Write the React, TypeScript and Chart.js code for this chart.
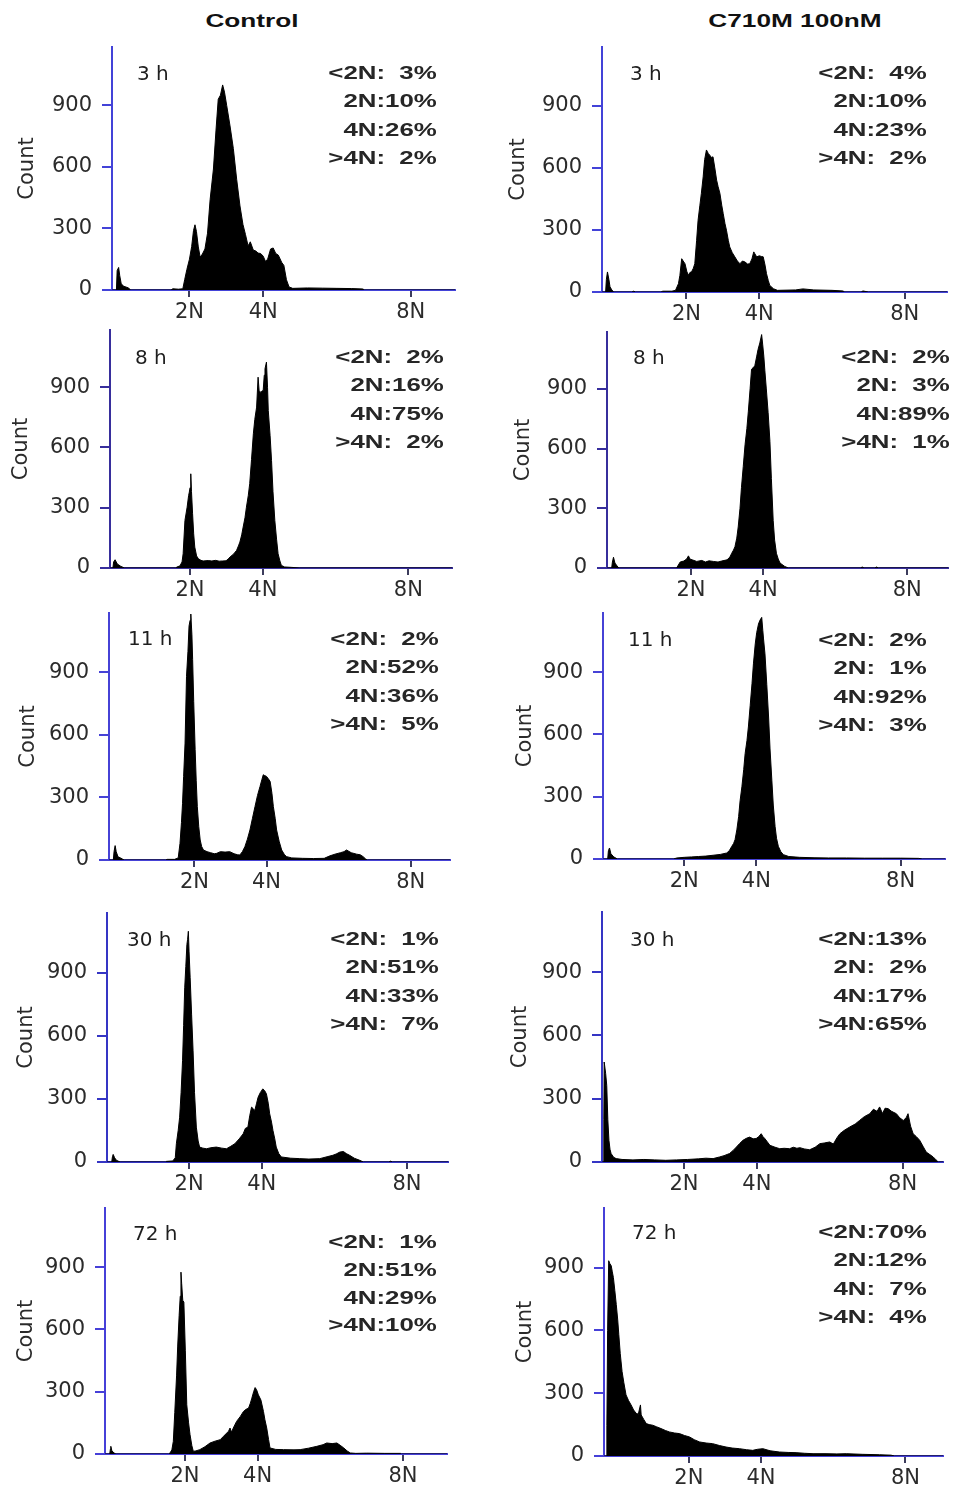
import React, { useEffect, useRef } from "react";
import { Chart, registerables } from "chart.js";

Chart.register(...registerables);

type Pt = [number, number];

// ---- DNA content histograms: [DNA content in N, count] ----
const control3h: Pt[] = [
  [-0.1, 0], [0.02, 0], [0.04, 95], [0.08, 110], [0.11, 70], [0.15, 30], [0.22, 18], [0.35, 10], [0.4, 0],
  [1.5, 0], [1.55, 6], [1.7, 4], [1.82, 6], [1.87, 50], [1.93, 100], [2.0, 150], [2.06, 212], [2.11, 290],
  [2.15, 318], [2.19, 285], [2.24, 210], [2.29, 160], [2.35, 175], [2.42, 200], [2.49, 277], [2.56, 440],
  [2.65, 590], [2.72, 780], [2.78, 930], [2.84, 950], [2.9, 1000], [2.95, 965], [3.01, 900], [3.1, 800],
  [3.19, 690], [3.28, 540], [3.37, 410], [3.45, 320], [3.52, 270], [3.59, 215], [3.65, 235], [3.73, 195],
  [3.8, 190], [3.86, 180], [3.93, 178], [4.0, 165], [4.06, 140], [4.12, 150], [4.2, 200], [4.27, 205],
  [4.34, 178], [4.41, 170], [4.5, 135], [4.56, 120], [4.63, 50], [4.7, 15], [4.8, 8], [5.2, 10], [5.6, 9],
  [6.0, 8], [6.4, 7], [6.7, 5], [6.75, 0], [9.25, 0],
];
const control8h: Pt[] = [
  [-0.2, 0], [-0.12, 0], [-0.1, 30], [-0.06, 41], [0.0, 20], [0.1, 8], [0.2, 0],
  [1.6, 0], [1.65, 6], [1.72, 10], [1.78, 30], [1.81, 71], [1.86, 237], [1.92, 303], [1.96, 360], [1.98, 378],
  [2.0, 400], [2.02, 469], [2.04, 380], [2.07, 270], [2.1, 170], [2.13, 104], [2.18, 60], [2.23, 46], [2.3, 38],
  [2.36, 35], [2.5, 37], [2.6, 35], [2.7, 38], [2.8, 34], [2.9, 35], [2.99, 36], [3.05, 45], [3.1, 55],
  [3.2, 70], [3.28, 88], [3.33, 110], [3.37, 129], [3.42, 165], [3.46, 204], [3.51, 250], [3.55, 303],
  [3.6, 360], [3.64, 420], [3.69, 540], [3.74, 668], [3.78, 740], [3.83, 801], [3.87, 950], [3.9, 880],
  [3.92, 867], [3.97, 880], [4.01, 884], [4.04, 960], [4.06, 992], [4.1, 1025], [4.13, 900], [4.15, 784],
  [4.2, 660], [4.24, 535], [4.28, 380], [4.33, 237], [4.38, 140], [4.42, 71], [4.47, 35], [4.51, 13],
  [4.6, 5], [4.8, 3], [5.0, 0], [9.2, 0],
];
const control11h: Pt[] = [
  [-0.37, 0], [-0.25, 0], [-0.23, 40], [-0.2, 69], [-0.17, 40], [-0.12, 15], [-0.05, 10], [0.0, 5], [0.05, 0],
  [1.2, 0], [1.25, 3], [1.45, 3], [1.55, 10], [1.6, 80], [1.64, 180], [1.67, 272], [1.7, 400], [1.74, 561],
  [1.78, 881], [1.82, 1000], [1.85, 1122], [1.88, 1150], [1.9, 1180], [1.93, 1080], [1.95, 962], [1.98, 760],
  [2.02, 529], [2.05, 380], [2.08, 256], [2.12, 160], [2.16, 96], [2.2, 65], [2.25, 48], [2.35, 40],
  [2.45, 35], [2.55, 30], [2.62, 32], [2.72, 40], [2.85, 38], [2.98, 40], [3.1, 30], [3.2, 25], [3.26, 24],
  [3.33, 40], [3.4, 64], [3.47, 100], [3.54, 144], [3.61, 200], [3.68, 256], [3.75, 310], [3.82, 353],
  [3.87, 385], [3.91, 409], [3.95, 405], [4.0, 401], [4.05, 390], [4.1, 377], [4.15, 320], [4.19, 256],
  [4.24, 200], [4.28, 144], [4.35, 90], [4.42, 48], [4.5, 25], [4.56, 16], [4.7, 10], [5.0, 8], [5.3, 7],
  [5.6, 8], [5.76, 20], [5.9, 28], [6.05, 35], [6.15, 40], [6.22, 48], [6.35, 35], [6.5, 28], [6.6, 25],
  [6.68, 16], [6.75, 5], [6.8, 0], [9.09, 0],
];
const control30h: Pt[] = [
  [-0.26, 0], [-0.13, 0], [-0.11, 25], [-0.09, 36], [-0.05, 20], [0.0, 8], [0.1, 0],
  [1.35, 0], [1.38, 3], [1.55, 5], [1.62, 20], [1.65, 87], [1.7, 150], [1.74, 213], [1.78, 330], [1.82, 482],
  [1.85, 650], [1.88, 829], [1.91, 930], [1.94, 1035], [1.96, 1060], [1.98, 1098], [2.0, 1000], [2.03, 877],
  [2.07, 700], [2.11, 529], [2.15, 330], [2.2, 166], [2.25, 100], [2.29, 71], [2.38, 66], [2.48, 63],
  [2.6, 68], [2.75, 71], [2.9, 66], [3.03, 63], [3.15, 75], [3.26, 87], [3.38, 110], [3.49, 134], [3.55, 160],
  [3.62, 166], [3.67, 220], [3.72, 261], [3.76, 255], [3.81, 245], [3.86, 280], [3.9, 308], [3.96, 330],
  [4.03, 348], [4.08, 340], [4.13, 324], [4.18, 280], [4.22, 229], [4.27, 190], [4.31, 150], [4.36, 110],
  [4.4, 71], [4.47, 40], [4.54, 24], [4.8, 18], [5.05, 16], [5.3, 14], [5.6, 16], [5.8, 25], [5.96, 32],
  [6.05, 38], [6.15, 47], [6.25, 50], [6.33, 40], [6.42, 32], [6.55, 18], [6.7, 8], [6.8, 0], [7.5, 0],
  [7.55, 4], [7.6, 0], [9.13, 0],
];
const control72h: Pt[] = [
  [-0.2, 0], [-0.07, 0], [-0.05, 25], [-0.04, 37], [-0.01, 15], [0.05, 5], [0.1, 0],
  [1.55, 0], [1.59, 5], [1.64, 20], [1.68, 61], [1.72, 200], [1.77, 380], [1.8, 520], [1.84, 668], [1.87, 760],
  [1.89, 876], [1.91, 820], [1.94, 740], [1.97, 732], [2.01, 500], [2.05, 237], [2.1, 150], [2.14, 93],
  [2.19, 40], [2.23, 13], [2.3, 15], [2.41, 21], [2.55, 35], [2.69, 53], [2.83, 62], [2.97, 69], [3.06, 85],
  [3.15, 101], [3.2, 110], [3.24, 125], [3.28, 105], [3.33, 125], [3.42, 157], [3.52, 180], [3.61, 205],
  [3.68, 215], [3.75, 221], [3.8, 245], [3.84, 269], [3.89, 300], [3.93, 320], [3.97, 310], [4.02, 285],
  [4.09, 260], [4.16, 205], [4.2, 165], [4.25, 125], [4.3, 70], [4.34, 29], [4.5, 22], [4.71, 21], [5.0, 20],
  [5.17, 21], [5.4, 28], [5.63, 37], [5.8, 45], [5.9, 53], [6.05, 50], [6.18, 53], [6.27, 42], [6.37, 29],
  [6.46, 15], [6.55, 5], [6.7, 3], [7.0, 4], [7.5, 3], [7.93, 3], [7.95, 0], [9.21, 0],
];

const c710m3h: Pt[] = [
  [-0.32, 0], [-0.22, 0], [-0.2, 60], [-0.17, 97], [-0.13, 60], [-0.1, 25], [-0.05, 10], [0.0, 0],
  [0.5, 0], [0.55, 4], [0.6, 0], [1.3, 0], [1.35, 4], [1.6, 4], [1.7, 8], [1.78, 40], [1.82, 80], [1.87, 161],
  [1.91, 150], [1.96, 137], [2.01, 100], [2.05, 81], [2.1, 95], [2.14, 97], [2.19, 115], [2.23, 137],
  [2.28, 250], [2.32, 347], [2.37, 420], [2.41, 477], [2.46, 557], [2.5, 640], [2.55, 687], [2.6, 670],
  [2.64, 662], [2.69, 650], [2.73, 654], [2.78, 600], [2.83, 541], [2.87, 510], [2.92, 477], [2.97, 420],
  [3.01, 380], [3.06, 330], [3.1, 299], [3.15, 250], [3.19, 218], [3.26, 190], [3.33, 170], [3.4, 150],
  [3.47, 137], [3.54, 150], [3.61, 145], [3.68, 135], [3.74, 137], [3.8, 160], [3.85, 194], [3.88, 185],
  [3.93, 170], [4.0, 175], [4.06, 172], [4.11, 170], [4.16, 130], [4.2, 89], [4.25, 55], [4.29, 32],
  [4.39, 16], [4.5, 8], [5.0, 10], [5.2, 15], [5.5, 10], [6.0, 8], [6.3, 5], [6.35, 0], [6.8, 0], [6.85, 5],
  [7.0, 0], [9.16, 0],
];
const c710m8h: Pt[] = [
  [-0.33, 0], [-0.2, 0], [-0.18, 30], [-0.15, 54], [-0.11, 25], [-0.05, 10], [0.0, 0],
  [1.6, 0], [1.65, 15], [1.7, 30], [1.8, 35], [1.88, 45], [1.93, 61], [1.97, 45], [2.05, 40], [2.16, 33],
  [2.3, 38], [2.4, 30], [2.5, 36], [2.62, 33], [2.75, 30], [2.85, 35], [3.0, 41], [3.08, 55], [3.13, 74],
  [3.18, 90], [3.22, 107], [3.27, 150], [3.31, 206], [3.36, 300], [3.4, 404], [3.45, 510], [3.5, 619],
  [3.55, 700], [3.59, 784], [3.64, 900], [3.68, 998], [3.72, 1005], [3.77, 1015], [3.82, 1060], [3.86, 1097],
  [3.91, 1130], [3.96, 1172], [3.99, 1120], [4.02, 1064], [4.05, 990], [4.09, 899], [4.14, 780], [4.19, 635],
  [4.23, 450], [4.28, 239], [4.32, 140], [4.37, 74], [4.42, 45], [4.47, 25], [4.6, 8], [4.7, 0], [6.7, 0],
  [6.75, 5], [6.8, 0], [7.1, 0], [7.15, 5], [7.2, 0], [9.13, 0],
];
const c710m11h: Pt[] = [
  [-0.25, 0], [-0.12, 0], [-0.1, 40], [-0.07, 53], [-0.03, 25], [0.05, 10], [0.15, 0],
  [1.7, 0], [1.8, 5], [2.0, 8], [2.2, 10], [2.4, 12], [2.6, 14], [2.8, 18], [3.0, 22], [3.18, 29], [3.25, 40],
  [3.32, 61], [3.37, 75], [3.41, 93], [3.46, 140], [3.51, 205], [3.55, 280], [3.6, 348], [3.65, 430],
  [3.69, 508], [3.74, 570], [3.78, 636], [3.83, 740], [3.88, 844], [3.92, 940], [3.97, 1036], [4.01, 1090],
  [4.06, 1132], [4.1, 1150], [4.15, 1164], [4.18, 1100], [4.2, 1060], [4.24, 988], [4.29, 840], [4.34, 684],
  [4.38, 530], [4.43, 380], [4.47, 260], [4.52, 157], [4.56, 100], [4.61, 61], [4.68, 35], [4.75, 21],
  [4.9, 12], [5.2, 8], [5.6, 6], [6.0, 5], [6.5, 5], [7.0, 4], [7.5, 4], [8.0, 4], [8.5, 3], [8.6, 0], [9.23, 0],
];
const c710m30h: Pt[] = [
  [-0.25, 0], [-0.21, 0], [-0.2, 200], [-0.19, 474], [-0.15, 420], [-0.12, 363], [-0.09, 200], [-0.06, 103],
  [-0.03, 60], [0.0, 40], [0.07, 22], [0.14, 16], [0.3, 12], [0.6, 10], [0.9, 12], [1.2, 10], [1.5, 8],
  [1.8, 10], [2.1, 12], [2.4, 15], [2.6, 18], [2.8, 16], [2.98, 24], [3.1, 30], [3.25, 40], [3.35, 55],
  [3.44, 71], [3.53, 88], [3.62, 103], [3.71, 112], [3.8, 118], [3.9, 110], [3.98, 111], [4.05, 120],
  [4.12, 134], [4.17, 120], [4.22, 111], [4.29, 95], [4.36, 79], [4.5, 70], [4.63, 63], [4.75, 65], [4.9, 63],
  [5.0, 70], [5.1, 65], [5.18, 68], [5.3, 62], [5.45, 58], [5.6, 70], [5.73, 87], [5.85, 90], [6.0, 95],
  [6.1, 85], [6.2, 115], [6.28, 134], [6.4, 150], [6.55, 166], [6.7, 180], [6.82, 197], [6.95, 215],
  [7.1, 229], [7.2, 250], [7.3, 240], [7.37, 261], [7.45, 230], [7.52, 255], [7.6, 253], [7.7, 240],
  [7.83, 229], [7.92, 210], [8.02, 197], [8.1, 210], [8.15, 229], [8.22, 170], [8.29, 134], [8.38, 120],
  [8.47, 103], [8.56, 75], [8.65, 47], [8.75, 35], [8.84, 24], [8.92, 10], [8.98, 0], [9.11, 0],
];
const c710m72h: Pt[] = [
  [-0.35, 0], [-0.28, 0], [-0.27, 147], [-0.25, 600], [-0.22, 933], [-0.19, 920], [-0.15, 909], [-0.12, 880],
  [-0.09, 853], [-0.05, 790], [-0.01, 724], [0.03, 650], [0.06, 580], [0.1, 490], [0.15, 404], [0.2, 350],
  [0.26, 292], [0.33, 265], [0.4, 244], [0.47, 220], [0.54, 204], [0.6, 200], [0.66, 244], [0.68, 196],
  [0.75, 175], [0.82, 155], [0.9, 150], [1.0, 147], [1.1, 140], [1.23, 131], [1.35, 122], [1.46, 115],
  [1.6, 110], [1.74, 107], [1.88, 98], [2.02, 91], [2.15, 78], [2.3, 67], [2.48, 62], [2.66, 59], [2.85, 50],
  [3.03, 43], [3.2, 38], [3.4, 35], [3.6, 30], [3.77, 27], [3.9, 32], [4.05, 35], [4.25, 25], [4.51, 19],
  [4.75, 17], [4.97, 16], [5.2, 13], [5.44, 11], [5.8, 11], [6.1, 10], [6.36, 11], [6.8, 8], [7.28, 6],
  [7.6, 4], [7.7, 0], [9.04, 0],
];

const controlSeries = [control3h, control8h, control11h, control30h, control72h];
const c710mSeries = [c710m3h, c710m8h, c710m11h, c710m30h, c710m72h];

// ---- labels ----
const columnTitles = ["Control", "C710M 100nM"];
const timeLabels = ["3 h", "8 h", "11 h", "30 h", "72 h"];
const phaseLabels = ["<2N:", "2N:", "4N:", ">4N:"];
const controlPercents = [[3, 10, 26, 2], [2, 16, 75, 2], [2, 52, 36, 5], [1, 51, 33, 7], [1, 51, 29, 10]];
const c710mPercents = [[4, 10, 23, 2], [2, 3, 89, 1], [2, 1, 92, 3], [13, 2, 17, 65], [70, 12, 7, 4]];
const xTickValues = [2, 4, 8];
const xTickLabels = ["2N", "4N", "8N"];
const yTickValues = [0, 300, 600, 900];
const yAxisTitle = "Count";
const yMax = 1185;

// ---- layout (pixels) ----
const PAGE_W = 953;
const PAGE_H = 1491;
const PAD_TOP = 26;
const PAD_RIGHT = 6;
const X_AXIS_H = 40;

interface Lay {
  L: number; T: number; B: number; R: number; countX: number; xMin: number; xMax: number; axis: string;
  timeX: number; timeY: number; pctX: number; pctY: number; pctGap: number;
}
const rowAxisColors = ["#4343d8", "#372e9c", "#4642d6", "#3535c4", "#4640d8"];
const leftLayout: Lay[] = [
  { L: 112, T: 47, B: 290, R: 455, countX: 28, xMin: -0.1, xMax: 9.2, axis: rowAxisColors[0], timeX: 137, timeY: 73, pctX: 437, pctY: 73, pctGap: 28.5 },
  { L: 110, T: 330, B: 568, R: 452, countX: 22, xMin: -0.2, xMax: 9.2, axis: rowAxisColors[1], timeX: 135, timeY: 357, pctX: 444, pctY: 357, pctGap: 28.4 },
  { L: 109, T: 613, B: 860, R: 450, countX: 29, xMin: -0.37, xMax: 9.09, axis: rowAxisColors[2], timeX: 128, timeY: 638, pctX: 439, pctY: 639, pctGap: 28.4 },
  { L: 107, T: 913, B: 1162, R: 448, countX: 27, xMin: -0.26, xMax: 9.13, axis: rowAxisColors[3], timeX: 127, timeY: 939, pctX: 439, pctY: 939, pctGap: 28.4 },
  { L: 105, T: 1208, B: 1454, R: 447, countX: 27, xMin: -0.2, xMax: 9.21, axis: rowAxisColors[4], timeX: 133, timeY: 1233, pctX: 437, pctY: 1242, pctGap: 27.7 },
];
const rightLayout: Lay[] = [
  { L: 602, T: 47, B: 292, R: 947, countX: 519, xMin: -0.32, xMax: 9.16, axis: rowAxisColors[0], timeX: 630, timeY: 73, pctX: 927, pctY: 73, pctGap: 28.5 },
  { L: 607, T: 332, B: 568, R: 948, countX: 524, xMin: -0.33, xMax: 9.13, axis: rowAxisColors[1], timeX: 633, timeY: 357, pctX: 950, pctY: 357, pctGap: 28.4 },
  { L: 603, T: 613, B: 859, R: 945, countX: 526, xMin: -0.25, xMax: 9.23, axis: rowAxisColors[2], timeX: 628, timeY: 639, pctX: 927, pctY: 640, pctGap: 28.4 },
  { L: 602, T: 912, B: 1162, R: 943, countX: 521, xMin: -0.25, xMax: 9.11, axis: rowAxisColors[3], timeX: 630, timeY: 939, pctX: 927, pctY: 939, pctGap: 28.4 },
  { L: 604, T: 1208, B: 1456, R: 943, countX: 526, xMin: -0.35, xMax: 9.04, axis: rowAxisColors[4], timeX: 632, timeY: 1232, pctX: 927, pctY: 1232, pctGap: 28.6 },
];
const titleCenters = [252, 795];

const tickFont = { family: "'DejaVu Sans', sans-serif", size: 21 };
const tickColor = "#2b2b2b";

function Histogram({ points, lay }: { points: Pt[]; lay: Lay }) {
  const ref = useRef<HTMLCanvasElement | null>(null);
  const left = lay.countX - 28;
  const top = lay.T - PAD_TOP;
  const width = lay.R - left + PAD_RIGHT;
  const height = lay.B - lay.T + PAD_TOP + X_AXIS_H;
  const yAxisWidth = lay.L - left;

  useEffect(() => {
    if (!ref.current) return;
    const chart = new Chart(ref.current, {
      type: "line",
      data: {
        datasets: [
          {
            data: points.map(([x, y]) => ({ x, y })),
            borderColor: "#000",
            backgroundColor: "#000",
            borderWidth: 1,
            pointRadius: 0,
            tension: 0,
            fill: "origin",
          },
        ],
      },
      options: {
        animation: false,
        responsive: false,
        maintainAspectRatio: false,
        events: [],
        layout: { padding: { top: PAD_TOP, right: PAD_RIGHT, left: 0, bottom: 0 } },
        plugins: { legend: { display: false }, tooltip: { enabled: false }, title: { display: false } },
        scales: {
          x: {
            type: "linear",
            min: lay.xMin,
            max: lay.xMax,
            z: 1,
            afterBuildTicks: (s: any) => {
              s.ticks = xTickValues.map((v) => ({ value: v }));
            },
            afterFit: (s: any) => {
              s.height = X_AXIS_H;
            },
            ticks: {
              autoSkip: false,
              maxRotation: 0,
              padding: 3,
              font: tickFont,
              color: tickColor,
              callback: (v: any) => {
                const i = xTickValues.indexOf(Number(v));
                return i >= 0 ? xTickLabels[i] : "";
              },
            },
            grid: { display: true, drawOnChartArea: false, drawTicks: true, tickLength: 7, color: "#3c3c5c", lineWidth: 2 },
            border: { display: true, color: lay.axis, width: 2 },
          },
          y: {
            type: "linear",
            min: 0,
            max: yMax,
            z: 1,
            afterBuildTicks: (s: any) => {
              s.ticks = yTickValues.map((v) => ({ value: v }));
            },
            afterFit: (s: any) => {
              s.width = yAxisWidth;
            },
            ticks: { padding: 10, font: tickFont, color: tickColor },
            grid: { display: true, drawOnChartArea: false, drawTicks: true, tickLength: 10, color: lay.axis, lineWidth: 2 },
            border: { display: true, color: lay.axis, width: 2 },
            title: {
              display: true,
              text: yAxisTitle,
              font: tickFont,
              color: tickColor,
              padding: { top: 15, bottom: 0 },
            },
          },
        },
      },
    } as any);
    return () => chart.destroy();
  }, [points, lay]);

  return (
    <canvas
      ref={ref}
      width={width}
      height={height}
      style={{ position: "absolute", left, top, width, height }}
    />
  );
}

function Annotation({ lay, time, pcts }: { lay: Lay; time: string; pcts: number[] }) {
  return (
    <>
      <div
        style={{
          position: "absolute",
          left: lay.timeX,
          top: lay.timeY - 12,
          font: "20px 'DejaVu Sans', sans-serif",
          lineHeight: "24px",
          color: "#1e1e1e",
          whiteSpace: "nowrap",
        }}
      >
        {time}
      </div>
      <div
        style={{
          position: "absolute",
          right: PAGE_W - lay.pctX,
          top: lay.pctY - lay.pctGap / 2,
          transform: "scaleX(1.36)",
          transformOrigin: "right top",
          display: "grid",
          gridTemplateColumns: "auto 38px",
          font: "bold 19px 'Liberation Sans', Arial, sans-serif",
          lineHeight: `${lay.pctGap}px`,
          color: "#262626",
          whiteSpace: "nowrap",
        }}
      >
        {phaseLabels.map((p, i) => (
          <React.Fragment key={i}>
            <span style={{ textAlign: "right" }}>{p}</span>
            <span style={{ textAlign: "right" }}>{pcts[i]}%</span>
          </React.Fragment>
        ))}
      </div>
    </>
  );
}

export default function App() {
  return (
    <div
      style={{
        position: "absolute",
        left: 0,
        top: 0,
        width: PAGE_W,
        height: PAGE_H,
        overflow: "hidden",
        background: "#fff",
      }}
    >
      {columnTitles.map((t, i) => (
        <div
          key={t}
          style={{
            position: "absolute",
            left: titleCenters[i] - 150,
            width: 300,
            top: 9,
            textAlign: "center",
            font: "bold 19px 'Liberation Sans', Arial, sans-serif",
            lineHeight: "24px",
            color: "#111",
            transform: "scaleX(1.38)",
            whiteSpace: "nowrap",
          }}
        >
          {t}
        </div>
      ))}
      {controlSeries.map((s, i) => (
        <React.Fragment key={"c" + i}>
          <Histogram points={s} lay={leftLayout[i]} />
          <Annotation lay={leftLayout[i]} time={timeLabels[i]} pcts={controlPercents[i]} />
        </React.Fragment>
      ))}
      {c710mSeries.map((s, i) => (
        <React.Fragment key={"m" + i}>
          <Histogram points={s} lay={rightLayout[i]} />
          <Annotation lay={rightLayout[i]} time={timeLabels[i]} pcts={c710mPercents[i]} />
        </React.Fragment>
      ))}
    </div>
  );
}
